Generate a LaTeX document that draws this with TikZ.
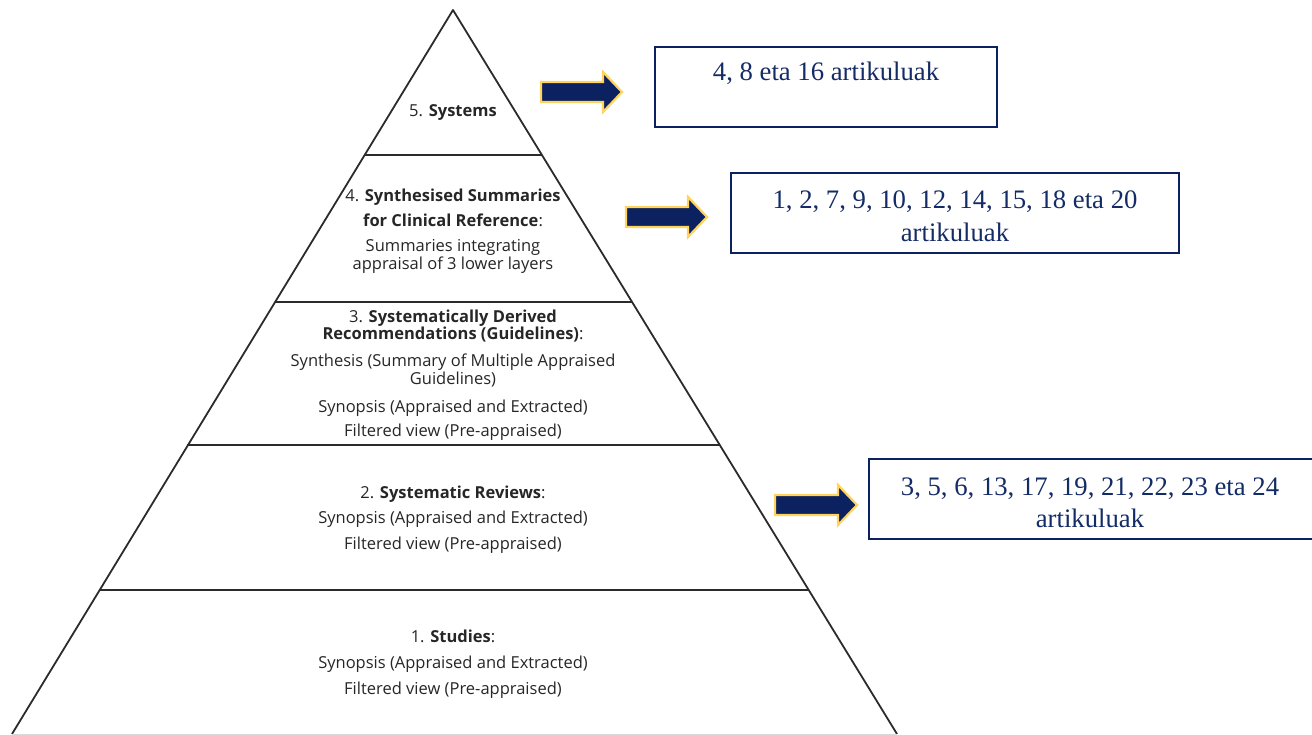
\documentclass[tikz,border=0pt]{standalone}
\usepackage{fontspec}
\setmainfont{Liberation Serif}
\newfontfamily\pyrfont{Open Sans}
\definecolor{navy}{HTML}{0B2160}
\definecolor{boxtext}{HTML}{142C66}
\definecolor{gold}{HTML}{FFD45C}
\definecolor{pyrline}{HTML}{2B2B2B}
\definecolor{pyrtext}{HTML}{262626}
\tikzset{
  pyrl/.style={draw=pyrline, line width=1.8pt},
  lbl/.style={anchor=mid, inner sep=0pt, text=pyrtext, font=\pyrfont\fontsize{16.5}{19}\selectfont},
  refbox/.style={draw=navy, line width=2pt},
  reftext/.style={anchor=mid, inner sep=0pt, text=boxtext, font=\fontsize{26.7}{30}\selectfont},
  blockarrow/.style={fill=navy, draw=gold, line width=2.2pt, line join=miter}
}
\begin{document}
\begin{tikzpicture}[x=1pt,y=-1pt]
\useasboundingbox (0,0) rectangle (1312,734);
\clip (0,0) rectangle (1312,734);
% pyramid
\coordinate (apex) at (453,10);
\coordinate (bl) at (12,734);
\coordinate (br) at (897,734);
\draw[pyrl, line join=round] (bl) -- (apex) -- (br);
\draw[draw=black!15, line width=1pt] (bl) -- (br);
\coordinate (l4a) at (364.7,155); \coordinate (l4b) at (542,155);
\coordinate (l3a) at (275,302);   \coordinate (l3b) at (632,302);
\coordinate (l2a) at (187,445);   \coordinate (l2b) at (720,445);
\coordinate (l1a) at (99.5,590);  \coordinate (l1b) at (808.5,590);
\draw[pyrl] (l4a) -- (l4b);
\draw[pyrl] (l3a) -- (l3b);
\draw[pyrl] (l2a) -- (l2b);
\draw[pyrl] (l1a) -- (l1b);
% layer texts
\node[lbl] (t5) at (453,114) {5. \textbf{Systems}};
\node[lbl] (t4a) at (453,199) {4. \textbf{Synthesised Summaries}};
\node[lbl] (t4b) at (453,224) {\textbf{for Clinical Reference}:};
\node[lbl] (t4c) at (453,249) {Summaries integrating};
\node[lbl] (t4d) at (453,267) {appraisal of 3 lower layers};
\node[lbl] (t3a) at (453,320) {3. \textbf{Systematically Derived}};
\node[lbl] (t3b) at (453,337) {\textbf{Recommendations (Guidelines)}:};
\node[lbl] (t3c) at (453,364) {Synthesis (Summary of Multiple Appraised};
\node[lbl] (t3d) at (453,382) {Guidelines)};
\node[lbl] (t3e) at (453,410) {Synopsis (Appraised and Extracted)};
\node[lbl] (t3f) at (453,434) {Filtered view (Pre-appraised)};
\node[lbl] (t2a) at (453,496) {2. \textbf{Systematic Reviews}:};
\node[lbl] (t2b) at (453,521) {Synopsis (Appraised and Extracted)};
\node[lbl] (t2c) at (453,547) {Filtered view (Pre-appraised)};
\node[lbl] (t1a) at (453,640) {1. \textbf{Studies}:};
\node[lbl] (t1b) at (453,666) {Synopsis (Appraised and Extracted)};
\node[lbl] (t1c) at (453,692) {Filtered view (Pre-appraised)};
% reference boxes
\draw[refbox] (655,47) rectangle (997,127);
\node[reftext] (b1) at (826,78) {4, 8 eta 16 artikuluak};
\draw[refbox] (731,173) rectangle (1179,253);
\node[reftext] (b2a) at (955,206) {1, 2, 7, 9, 10, 12, 14, 15, 18 eta 20};
\node[reftext] (b2b) at (955,239) {artikuluak};
\draw[refbox] (869,459) rectangle (1316,539);
\node[reftext] (b3a) at (1090,493) {3, 5, 6, 13, 17, 19, 21, 22, 23 eta 24};
\node[reftext] (b3b) at (1090,525) {artikuluak};
% block arrows
\draw[blockarrow] (541,82) -- (603,82) -- (603,72) -- (622,92) -- (603,112) -- (603,102) -- (541,102) -- cycle;
\draw[blockarrow] (626,207) -- (688,207) -- (688,197) -- (707,217) -- (688,237) -- (688,227) -- (626,227) -- cycle;
\draw[blockarrow] (775,495) -- (838,495) -- (838,485) -- (857,505) -- (838,525) -- (838,515) -- (775,515) -- cycle;
\end{tikzpicture}
\end{document}
